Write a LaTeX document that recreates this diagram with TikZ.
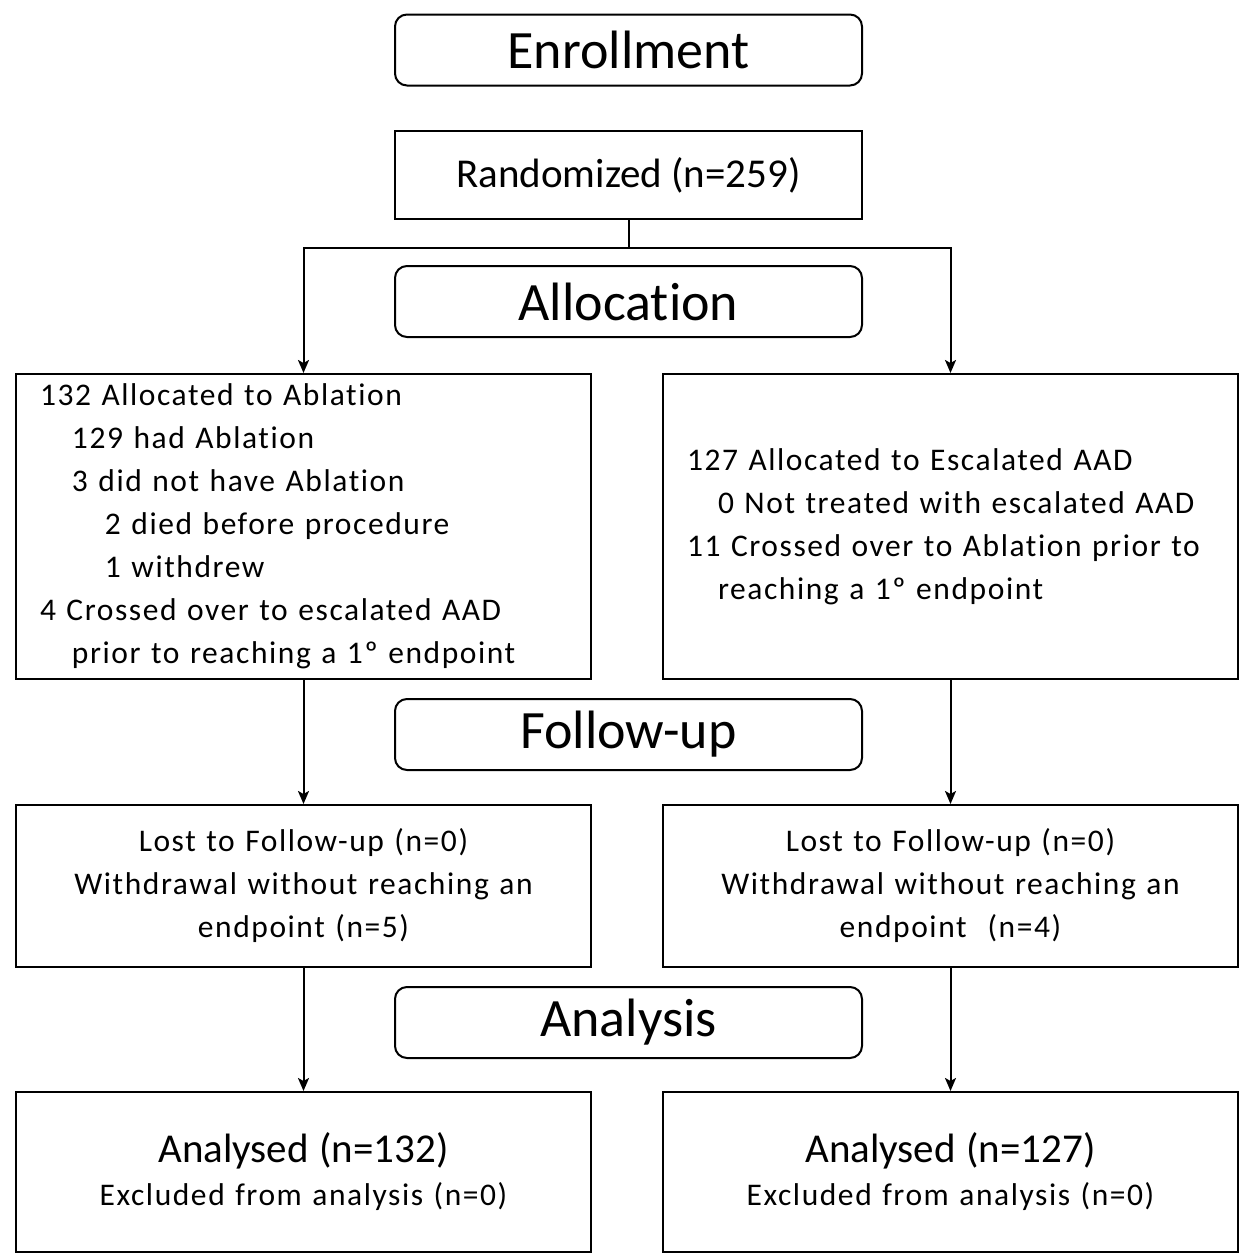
\documentclass[tikz,border=0pt]{standalone}
\usepackage{fontspec}
\setmainfont{Carlito}[Ligatures=NoCommon]
\usepackage{tikz}
\usetikzlibrary{arrows.meta}

\begin{document}
\begin{tikzpicture}[->,>={Stealth[length=13pt,width=11pt,inset=3pt]},auto, line width=2pt,
                    phase/.style={rectangle, minimum width=467pt, minimum height=71pt, rounded corners=12pt, text centered, draw=black, font=\fontsize{54}{60}\selectfont},
                    randbox/.style={rectangle, minimum width=467pt, minimum height=88pt, text centered, draw=black, font=\fontsize{41}{46}\selectfont},
                    armbox/.style={rectangle, text width=527pt, inner xsep=24pt, inner ysep=0pt, align=left, draw=black, font=\fontsize{31.5}{43}\selectfont\addfontfeature{LetterSpace=5}},
                    countbox/.style={rectangle, text width=527pt, inner xsep=24pt, inner ysep=0pt, align=center, draw=black, font=\fontsize{31.5}{43}\selectfont\addfontfeature{LetterSpace=5}}]
        \useasboundingbox (0,0) rectangle (1239pt,-1254pt);
        \node (Enrollment) [phase] at (628.5pt,-50pt) {Enrollment};
        \node (Randomized) [randbox, node distance=125pt, below of=Enrollment] {Randomized (n=259)};
        \coordinate (Split) at ([yshift=-73pt]Randomized.center);
        \node (Allocation) [phase, node distance=126.5pt, below of=Randomized] {Allocation};
        \node (AblAlloc) [armbox, minimum height=305pt, node distance=225pt, below of=Allocation, xshift=-325pt]
            {132 Allocated to Ablation\\
             \hspace*{32pt}129 had Ablation\\
             \hspace*{32pt}3 did not have Ablation\\
             \hspace*{65pt}2 died before procedure\\
             \hspace*{65pt}1 withdrew\\
             4 Crossed over to escalated AAD\\
             \hspace*{32pt}prior to reaching a 1º endpoint};
        \node (AadAlloc) [armbox, minimum height=305pt, node distance=225pt, below of=Allocation, xshift=322pt]
            {127 Allocated to Escalated AAD\\
             \hspace*{31pt}0 Not treated with escalated AAD\\
             11 Crossed over to Ablation prior to\\
             \hspace*{31pt}reaching a 1º endpoint};
        \node (FollowUp) [phase, node distance=433pt, below of=Allocation] {Follow-up};
        \node (AblFollow) [countbox, minimum height=162pt, node distance=359.5pt, below of=AblAlloc]
            {Lost to Follow-up (n=0)\\ Withdrawal without reaching an\\ endpoint (n=5)};
        \node (AadFollow) [countbox, minimum height=162pt, node distance=359.5pt, below of=AadAlloc]
            {Lost to Follow-up (n=0)\\ Withdrawal without reaching an\\ endpoint\ \ (n=4)};
        \node (Analysis) [phase, node distance=288pt, below of=FollowUp] {Analysis};
        \node (AblAnalysis) [countbox, minimum height=160pt, node distance=286pt, below of=AblFollow]
            {{\fontsize{41}{47}\selectfont\addfontfeature{LetterSpace=0}Analysed (n=132)}\\ Excluded from analysis (n=0)};
        \node (AadAnalysis) [countbox, minimum height=160pt, node distance=286pt, below of=AadFollow]
            {{\fontsize{41}{47}\selectfont\addfontfeature{LetterSpace=0}Analysed (n=127)}\\ Excluded from analysis (n=0)};

        \draw[-] (Randomized) -- (Split);
        \draw (Split) -| (AblAlloc);
        \draw (Split) -| (AadAlloc);
        \path
        (AblAlloc)
            edge (AblFollow)
        (AadAlloc)
            edge (AadFollow)
        (AblFollow)
            edge (AblAnalysis)
        (AadFollow)
            edge (AadAnalysis)
        ;
        \end{tikzpicture}
\end{document}
